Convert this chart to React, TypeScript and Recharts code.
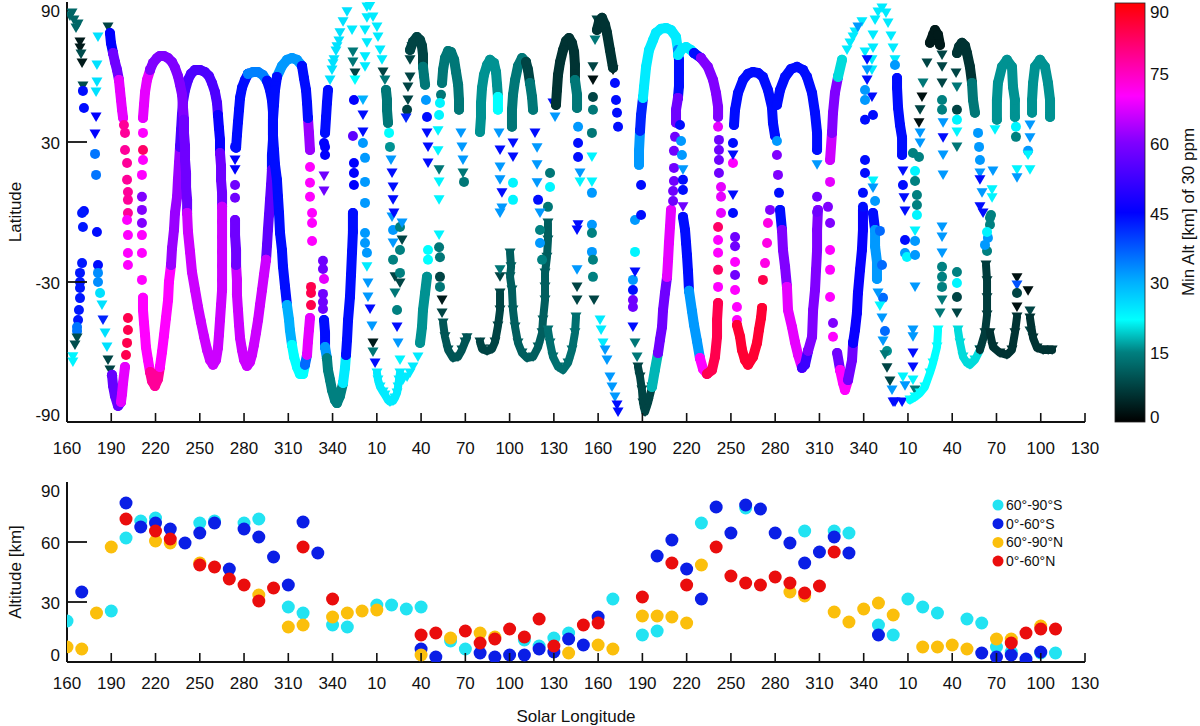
import React from 'react'
import { ScatterChart, Scatter, XAxis, YAxis } from 'recharts'

// Ls is continuous: 160..360 then 370 (=10) .. 520 (=160) .. 720 (=360) .. 850 (=130)
type Kind = 'o' | 'v' | 'O' | 'V' // o circle, v triangle; capitals = dense track
interface Seg { a: number; k: Kind; p: [number, number][] }

const LS_TICKS = [160, 190, 220, 250, 280, 310, 340, 370, 400, 430, 460, 490, 520, 550, 580, 610, 640, 670, 700, 730, 760, 790, 820, 850]
const LS_LABELS = ['160', '190', '220', '250', '280', '310', '340', '10', '40', '70', '100', '130', '160', '190', '220', '250', '280', '310', '340', '10', '40', '70', '100', '130']
const LAT_TICKS = [-90, -30, 30, 90]
const ALT_TICKS = [0, 30, 60, 90]
const CBAR_TICKS = [0, 15, 30, 45, 60, 75, 90]

// ---- upper panel: occultation latitude, coloured by min altitude (km) ----
const EARLY: Seg[] = [
  { a: 12, k: 'v', p: [[162, 84], [164.7, 82.3], [167.5, 80.6], [163.4, 85.3], [166.1, 78.9]] },
  { a: 3, k: 'v', p: [[168.8, 72.9], [168.8, 70.3], [170.2, 63.9]] },
  { a: 9, k: 'v', p: [[169.5, 67.7], [170.8, 54]] },
  { a: 44, k: 'o', p: [[170.8, 51.9], [171.5, 44.6], [171.5, 0.4]] },
  { a: 25, k: 'v', p: [[181, 75], [180.3, 63], [180.3, 55.7], [179.7, 51.4]] },
  { a: 45, k: 'v', p: [[179.7, 40.7], [179, 33.4]] },
  { a: 35, k: 'o', p: [[179, 24.9], [179.7, 15.9]] },
  { a: 43, k: 'o', p: [[170.2, -0.4], [170.8, -6.4], [170.2, -21.9], [168.8, -26.1], [168.8, -30], [168.8, -32.6], [168.8, -36.9], [168.1, -42], [167.5, -46.3]] },
  { a: 35, k: 'o', p: [[166.8, -49.3], [166.8, -51]] },
  { a: 9, k: 'v', p: [[166.8, -54], [165.4, -57]] },
  { a: 23, k: 'v', p: [[164, -62], [164, -64.3]] },
  { a: 44, k: 'o', p: [[180.3, -8.6], [181, -22.7]] },
  { a: 33, k: 'o', p: [[181, -26.1], [181, -30]] },
  { a: 25, k: 'o', p: [[182.4, -34.7]] },
  { a: 25, k: 'v', p: [[183.7, -39.9], [185.8, -51.9], [187.1, -57.9]] },
  { a: 42, k: 'v', p: [[184.4, -46.3]] },
  { a: 8, k: 'v', p: [[187.8, -63.4], [189.1, -67.7], [190.5, -72], [187.8, 79.3]] },
]

const MAGENTA_BAND: Seg[] = [
  { a: 45, k: 'O', p: [[189.1, 76.7], [189.8, 72.4], [191.2, 68.1]] },
  { a: 58, k: 'O', p: [[191.2, 68.1], [192.5, 64.3], [193.9, 60.9], [195.2, 56.6]] },
  { a: 68, k: 'O', p: [[195.2, 56.6], [195.9, 52.3], [196.6, 48], [197.3, 43.8], [198, 40.3]] },
  { a: 78, k: 'o', p: [[198.6, 37.3], [199.3, 33.9], [199.3, 26.6], [200.7, 21], [200.7, 13.8], [201.3, 8.6], [201.3, 5.2], [201.3, -0.4]] },
  { a: 70, k: 'o', p: [[200.7, -3.4], [201.3, -9.9], [201.3, -17.6], [201.3, -22.7]] },
  { a: 57, k: 'O', p: [[190.5, -69.8], [191.2, -74.5], [192.5, -78.8], [194.6, -83.1], [196.6, -81.4]] },
  { a: 68, k: 'O', p: [[196.6, -81.4], [197.3, -78], [198, -73.3], [199.3, -66.4]] },
  { a: 84, k: 'o', p: [[200, -61.3], [200.7, -56.1], [201.3, -50.6], [201.3, -45.4]] },
  { a: 70, k: 'o', p: [[211.5, 33.9], [211.5, 22.3], [210.8, 15.9], [210.8, -9.9], [210.8, -17.6], [210.8, -29.1]] },
  { a: 82, k: 'o', p: [[211.5, 26.6]] },
  { a: 60, k: 'o', p: [[210.8, 6.5], [210.8, 0.9], [210.8, -4.7]] },
  { a: 70, k: 'O', p: [[211.5, -36.8], [211.5, -42], [212.2, -47.6], [212.9, -52.7], [213.5, -57.9], [214.9, -63.4], [216.3, -68.6]] },
  { a: 78, k: 'O', p: [[216.3, -68.6], [217.6, -72.4], [219.6, -74.6], [221.7, -71.6], [223, -66.4]] },
  { a: 70, k: 'O', p: [[223, -66.4], [224.4, -60], [225.7, -53.1], [227.1, -45.4], [228.5, -37.7], [229.1, -30], [230.5, -22.7]] },
  { a: 62, k: 'O', p: [[230.5, -22.7], [231.2, -15.4], [232.5, -7.7], [233.2, -0.4], [234.6, 6.5], [235.2, 13.8], [235.9, 21], [236.6, 27.9]] },
  { a: 54, k: 'O', p: [[236.6, 27.9], [237.3, 35.2], [237.9, 41.6], [238.6, 47.2], [240, 52.3], [242, 56.6], [244, 59.2], [246.8, 60.9], [250.1, 60.9], [253.5, 60], [256.2, 58.3], [258.3, 55.3], [260.3, 51.4], [261.7, 46.7], [262.3, 41.6]] },
  { a: 68, k: 'O', p: [[211.5, 40.3], [212.2, 46], [212.9, 51.4], [214.2, 56.6], [216.3, 60.9]] },
  { a: 60, k: 'O', p: [[216.3, 60.9], [218.3, 63.9], [221, 66], [223, 66.9], [225.7, 66.9], [228.5, 66], [231.2, 64.3], [233.2, 61.8], [235.2, 58.3], [236.6, 54.5], [238, 50.2], [238.6, 45], [239.3, 39.5]] },
  { a: 58, k: 'O', p: [[239.3, 39.5], [239.3, 33.9], [240, 28.3], [240, 22.3], [240.7, 16.7], [240.7, 10.7], [241.4, 5.2], [241.4, -0.4]] },
  { a: 66, k: 'O', p: [[241.4, -0.4], [242, -8.5], [243.4, -17.1], [244.7, -25.7], [246.8, -33.4], [248.8, -40.7], [250.8, -47.1], [252.9, -53.5], [254.9, -59.1], [256.9, -63.4], [259, -65.5], [261, -63.4], [262.3, -58.3], [263, -52.7], [263.7, -46.3], [264.4, -39.9], [265.1, -33.4]] },
  { a: 46, k: 'O', p: [[262.3, 41.6], [263, 36], [263.7, 30.9], [263.7, 25.3]] },
  { a: 58, k: 'O', p: [[263.7, 25.3], [264.4, 19.7], [264.4, 13.8], [265.1, 8.2], [265.1, 2.2]] },
  { a: 66, k: 'O', p: [[265.1, 2.2], [265.1, -4.2], [265.1, -10.7], [265.1, -17.1], [265.1, -23.1], [265.1, -29.1], [265.1, -33.4]] },
]

const BLUE_BAND: Seg[] = [
  { a: 45, k: 'o', p: [[273.9, 27.9]] },
  { a: 45, k: 'v', p: [[273.9, 22.3], [273.9, 18.1]] },
  { a: 58, k: 'o', p: [[273.9, 11.6], [273.9, 6.1]] },
  { a: 44, k: 'O', p: [[274.6, 27.5], [275.2, 33], [275.9, 38.6], [276.6, 43.8], [277.3, 48.9], [278.6, 53.2], [280.6, 56.6], [282.7, 59.2]] },
  { a: 34, k: 'O', p: [[282.7, 59.2], [286.1, 60], [289.5, 60], [292.8, 58.7], [295.6, 56.2]] },
  { a: 44, k: 'O', p: [[295.6, 56.2], [297.6, 52.3], [298.9, 48], [299.6, 42.9], [299.6, 37.3], [299.6, 30.9], [298.9, 24.4], [298.9, 18.1]] },
  { a: 56, k: 'O', p: [[298.9, 18.1], [298.3, 11.6], [297.6, 5.2], [296.9, -1.3], [296.2, -7.7], [295.6, -14.1], [294.9, -20.5]] },
  { a: 66, k: 'O', p: [[294.9, -20.5], [293.5, -27], [292.2, -33.4], [290.8, -39.9], [289.5, -46.3], [288.1, -51.8], [286.7, -57], [285.4, -61.2], [284, -64.3], [282, -66], [280, -63.4], [278.6, -59.1], [277.3, -54], [276.6, -48.4], [275.9, -42], [275.2, -35.5], [275.2, -29.1], [274.6, -22.7]] },
  { a: 58, k: 'O', p: [[274.6, -22.7], [274.6, -16.3], [273.9, -9.9], [273.9, -3.4]] },
  { a: 32, k: 'O', p: [[302.3, 57.9], [305.7, 62.6], [309.1, 65.2], [312.5, 66], [315.9, 65.2], [319.3, 62.6]] },
  { a: 44, k: 'O', p: [[302.3, 57.9], [301, 52.3], [300.3, 45.9], [299.6, 39.5], [299.6, 33], [300.3, 26.6], [301, 20.2], [302.3, 13.8], [303, 6.5], [303.7, -0.4], [304.4, -9], [305.7, -16.3], [306.4, -23.5], [307.8, -32.1], [309.1, -39.9]] },
  { a: 30, k: 'O', p: [[309.1, -39.9], [310.5, -46.3], [311.1, -50.6], [312.5, -57]] },
  { a: 22, k: 'O', p: [[312.5, -57], [313.9, -62.1], [315.9, -66.4], [317.9, -69.4], [320, -69.4], [321.3, -65.5]] },
  { a: 36, k: 'O', p: [[321.3, -65.5], [322.7, -61.2]] },
  { a: 68, k: 'O', p: [[322.7, -61.2], [323.3, -55.7], [324, -50.6], [324.7, -45.4]] },
  { a: 84, k: 'o', p: [[325.4, -39.9], [325.4, -34.7], [325.4, -32.1]] },
  { a: 70, k: 'o', p: [[326.1, -12.4], [326.1, -4.7], [326.1, -0.4], [324.7, 6.5], [324.7, 12.5], [324.7, 19.3]] },
  { a: 62, k: 'O', p: [[324.7, 26.6], [324, 33.9], [323.3, 40.3]] },
  { a: 44, k: 'O', p: [[323.3, 40.3], [322.7, 46.7], [322, 52.3], [320.6, 57.4], [319.3, 62.6]] },
  { a: 45, k: 'o', p: [[334.9, 27.9], [334.9, 24.4], [334.2, 29.6]] },
  { a: 58, k: 'v', p: [[334.2, 15.4], [334.2, 9]] },
  { a: 58, k: 'o', p: [[333.5, -20.9], [333.5, -24.4], [333.5, -35.1], [333.5, -38.6], [333.5, -41.6]] },
  { a: 68, k: 'o', p: [[334.2, -28.7]] },
  { a: 44, k: 'O', p: [[334.2, -46.3], [334.9, -51.8], [334.9, -57.9]] },
  { a: 32, k: 'O', p: [[334.9, -57.9], [336.2, -62.7]] },
  { a: 15, k: 'O', p: [[336.2, -62.7], [336.9, -67.7], [338.3, -72], [339.6, -76.3], [341.6, -80.6], [343, -81.9], [345, -78.9], [347.1, -73.3]] },
  { a: 24, k: 'O', p: [[347.1, -73.3], [348.4, -66.9], [349.1, -61.3]] },
  { a: 44, k: 'O', p: [[349.1, -61.3], [349.8, -54.8], [350.5, -46.3], [351.8, -36.4], [352.5, -27], [353.2, -17.1], [353.8, -8.5], [353.8, -0.4]] },
  { a: 45, k: 'o', p: [[354.5, 11.6], [354.5, 16.7], [354.5, 21], [354.5, 48]] },
  { a: 56, k: 'o', p: [[353.8, 32.6]] },
  { a: 44, k: 'O', p: [[334.9, 33.9], [335.6, 40.7], [336.2, 46.7], [336.9, 52.3]] },
  { a: 25, k: 'v', p: [[338.3, 56.6], [339.6, 60.9], [340.3, 63.5], [341, 65.2], [342.3, 69], [343, 70.8], [344.3, 73.3], [345, 76.8], [347.1, 81.5], [349.8, 85.8]] },
]

const CYAN_ARCH: Seg[] = [
  { a: 24, k: 'v', p: [[353.2, 78]] },
  { a: 14, k: 'v', p: [[353.8, 68.6], [353.8, 64.3]] },
  { a: 8, k: 'v', p: [[355.2, 59.6]] },
  { a: 22, k: 'v', p: [[355.2, 56.6]] },
  { a: 24, k: 'v', p: [[363.3, 87.9], [363.3, 83.2], [362, 78], [363.3, 72.5], [362, 66.5], [362, 62.2]] },
  { a: 30, k: 'v', p: [[360.6, 48]] },
  { a: 44, k: 'v', p: [[360.6, 41.6], [360.6, 34.3]] },
  { a: 32, k: 'o', p: [[360.6, 29.6], [362, 23.2], [362, 12.9], [362, 3.9], [362, -9], [362, -13.3], [363.3, -17.5]] },
  { a: 24, k: 'v', p: [[363.3, -23.5]] },
  { a: 32, k: 'v', p: [[364, -30.4], [364, -36.4], [366.7, -48.9]] },
  { a: 44, k: 'v', p: [[365.4, -41.6], [368.8, -64.7]] },
  { a: 3, k: 'v', p: [[367.4, -56.1]] },
  { a: 14, k: 'v', p: [[367.4, -60]] },
  { a: 24, k: 'v', p: [[365.4, 88.3], [367.4, 83.6], [370.1, 79.3], [370.8, 75], [372.2, 69.4], [373.5, 65.2]] },
  { a: 8, k: 'v', p: [[374.2, 60]] },
  { a: 14, k: 'v', p: [[375.5, 56.6]] },
  { a: 14, k: 'O', p: [[376.2, 52.3], [376.9, 48], [376.9, 43.8], [377.6, 38.2]] },
  { a: 22, k: 'o', p: [[378.3, 33.9]] },
  { a: 16, k: 'o', p: [[378.9, 27.9]] },
  { a: 32, k: 'v', p: [[379.6, 22.3], [380.3, -2.1], [381, -13.3], [384.4, -56.1]] },
  { a: 44, k: 'v', p: [[380.3, 16.7], [381, 10.7], [381, 5.2], [381.6, -0.4], [383.7, -49.3]] },
  { a: 32, k: 'o', p: [[381, -7.7]] },
  { a: 15, k: 'o', p: [[381, -20.5], [383.7, -42]] },
  { a: 8, k: 'v', p: [[382.3, -27.8]] },
  { a: 14, k: 'v', p: [[382.3, -34.7]] },
  { a: 23, k: 'v', p: [[385.7, -63.4]] },
  { a: 15, k: 'o', p: [[385.7, -6.4], [385.7, -16.3], [385.7, -26.1]] },
  { a: 32, k: 'v', p: [[387.1, -4.7]] },
  { a: 8, k: 'v', p: [[387.1, -12], [385.7, -30.4]] },
  { a: 24, k: 'V', p: [[370.1, -69], [370.8, -72], [372.2, -75], [374.2, -77.1], [375.5, -78.4], [377.6, -80.6], [378.9, -81.4], [381, -81], [382.3, -79.7], [383.7, -77.6], [384.4, -75], [385, -72], [385.7, -69]] },
  { a: 24, k: 'v', p: [[387.7, -72], [390.5, -70.7], [392.5, -69], [394.5, -66.4], [397.9, -62.1]] },
  { a: 16, k: 'O', p: [[399.3, -56.1], [400.6, -49.3], [401.3, -42], [402.7, -34.7], [404, -27.8]] },
  { a: 22, k: 'o', p: [[404.7, -20.5], [404.7, -16.3]] },
]

const TEAL_ARCHES: Seg[] = [
  { a: 8, k: 'v', p: [[393.8, 70.8], [392.5, 65.2], [392.5, 57.9], [391.1, 53.6], [391.1, 48]] },
  { a: 8, k: 'o', p: [[390.5, 43.8]] },
  { a: 42, k: 'v', p: [[389.8, 40.3]] },
  { a: 8, k: 'O', p: [[392.5, 69.4], [394.5, 72.9], [397.2, 75], [399.3, 73.7], [400.6, 71.2], [401.3, 67.3], [401.3, 62.2]] },
  { a: 14, k: 'O', p: [[401.3, 62.2], [402, 58.3], [402.7, 54.5]] },
  { a: 32, k: 'o', p: [[403.3, 48]] },
  { a: 44, k: 'o', p: [[404, 40.7]] },
  { a: 44, k: 'v', p: [[404, 33.9], [404.7, 27.9], [404.7, 21]] },
  { a: 14, k: 'O', p: [[414.2, 55.3], [414.9, 60.9], [416.2, 66], [418.3, 69], [420.3, 68.6], [422.4, 65.2], [423.7, 60], [425.1, 54.5], [425.7, 48], [425.7, 43.8]] },
  { a: 14, k: 'o', p: [[413.5, 50.2]] },
  { a: 23, k: 'o', p: [[412.8, 46.7], [412.2, 41.6]] },
  { a: 23, k: 'v', p: [[411.5, 34.8], [411.5, 26.2], [412.2, 12.9], [412.2, 5.2]] },
  { a: 14, k: 'v', p: [[412.2, 18.1], [428.4, 16.7]] },
  { a: 32, k: 'v', p: [[427, 33.9], [427.7, 27.9], [428.4, 22.3]] },
  { a: 14, k: 'o', p: [[429.1, 12.9]] },
  { a: 16, k: 'O', p: [[439.9, 34.3], [440.6, 40.7], [440.6, 46.7], [441.3, 53.2], [442.6, 58.7], [444.7, 63], [446.7, 65.2], [449.4, 63.9], [450.8, 60], [451.5, 54.5], [452.1, 49.3]] },
  { a: 22, k: 'O', p: [[452.1, 49.3], [452.1, 43.8]] },
  { a: 32, k: 'v', p: [[452.8, 33.9], [453.5, 19.3], [453.5, 13.8], [454.8, 1.7]] },
  { a: 44, k: 'v', p: [[453.5, 26.6], [454.8, 8.2]] },
  { a: 14, k: 'O', p: [[461.6, 36.5], [461.6, 43.8], [462.3, 50.2], [463.7, 56.6], [465.7, 62.6], [468.4, 66], [471.1, 64.3]] },
  { a: 8, k: 'O', p: [[471.1, 64.3], [472.5, 60.9], [473.8, 55.3]] },
  { a: 14, k: 'O', p: [[473.8, 55.3], [475.2, 49.3], [475.9, 43.8]] },
  { a: 44, k: 'v', p: [[462.3, 29.6], [462.3, 23.6], [477.2, 33.9]] },
  { a: 23, k: 'o', p: [[462.3, 12.5], [462.3, 5.2]] },
  { a: 32, k: 'v', p: [[478.6, 27.5], [478.6, 20.2], [478.6, 12.5]] },
  { a: 44, k: 'o', p: [[479.3, 5.2]] },
  { a: 14, k: 'o', p: [[487.4, 16.7], [486, 2.2]] },
  { a: 23, k: 'o', p: [[487.4, 10.7]] },
  { a: 44, k: 'v', p: [[489.4, 46.7]] },
  { a: 32, k: 'v', p: [[490.8, 40.7]] },
  { a: 6, k: 'O', p: [[491.4, 45.9], [492.1, 52.3], [492.8, 58.7], [494.2, 64.3], [496.2, 69.4], [498.2, 73.3], [500.3, 74.6], [502.3, 72.4], [503.7, 68.6], [504.3, 63], [504.3, 56.6]] },
  { a: 14, k: 'O', p: [[504.3, 56.6], [505.7, 50.2], [505.7, 44.6]] },
  { a: 32, k: 'o', p: [[506.4, 36.5]] },
  { a: 44, k: 'o', p: [[506.4, 29.6], [506.4, 23.6]] },
  { a: 32, k: 'v', p: [[507.7, 16.7]] },
  { a: 23, k: 'v', p: [[507.7, 12.9]] },
  { a: 8, k: 'v', p: [[519.2, 82.3], [516.5, 62.2]] },
  { a: 14, k: 'v', p: [[517.9, 73.7]] },
  { a: 2, k: 'v', p: [[516.5, 56.6], [530.1, 60.9]] },
  { a: 8, k: 'o', p: [[516.5, 49.3]] },
  { a: 14, k: 'o', p: [[516.5, 43.8], [515.8, 33.9]] },
  { a: 23, k: 'v', p: [[515.8, 23.6], [515.8, 12.9]] },
  { a: 32, k: 'o', p: [[515.8, 8.2]] },
  { a: 6, k: 'O', p: [[519.2, 78], [520.6, 81.5], [522.6, 83.2], [524.7, 80.2], [526, 76.8], [528, 69.4], [530.1, 61.8]] },
  { a: 44, k: 'o', p: [[531.4, 55.3], [532.1, 48], [532.8, 42.5], [533.5, 36.5]] },
]

const TEAL_BOTTOMS: Seg[] = [
  { a: 23, k: 'v', p: [[412.2, -9.9]] },
  { a: 14, k: 'o', p: [[412.2, -15.1], [412.8, -19.4], [412.8, -32.1]] },
  { a: 8, k: 'o', p: [[412.8, -27.8]] },
  { a: 3, k: 'v', p: [[414.2, -37.7]] },
  { a: 8, k: 'v', p: [[414.2, -43.3]] },
  { a: 10, k: 'V', p: [[414.9, -47.6], [416.2, -53.5], [418.3, -59.1], [421.6, -62.6], [425, -62.1], [427.7, -59.1], [429.8, -55.7], [431.1, -53.9]] },
  { a: 8, k: 'V', p: [[439.9, -55.7], [441.3, -58.7], [444.7, -59.6], [448.1, -58.7], [450.1, -55.7], [452.1, -48.9], [453.5, -42], [453.5, -34.7]] },
  { a: 8, k: 'v', p: [[453.5, -27.8]] },
  { a: 14, k: 'v', p: [[453.5, -24.8]] },
  { a: 32, k: 'v', p: [[453.5, -0.4]] },
  { a: 11, k: 'V', p: [[460.3, -17.6], [461, -23.5], [460.3, -27.8], [461.6, -33.4], [462.3, -42], [463.7, -49.3], [465.7, -56.1], [468.4, -60.4], [471.8, -62.6], [475.9, -62.1], [479.3, -57.9], [482, -51.8], [482.6, -46.3], [484, -37.7], [484, -32.1], [484, -26.1], [485.3, -19.4], [486, -12], [486, -4.7]] },
  { a: 32, k: 'v', p: [[480.6, -0.4]] },
  { a: 15, k: 'o', p: [[480.6, -7.7], [482, -20.5]] },
  { a: 32, k: 'o', p: [[480.6, -13.3]] },
  { a: 13, k: 'V', p: [[486, -50.6], [487.4, -56.1], [489.4, -62.1], [492.8, -66.4], [496.2, -67.7], [499.6, -64.7], [502.3, -59.1], [504.3, -51.8], [505, -45]] },
  { a: 8, k: 'v', p: [[505.7, -37.7], [505.7, -32.1]] },
  { a: 32, k: 'v', p: [[505.7, -24.8]] },
  { a: 44, k: 'v', p: [[505.7, -7.7], [506.4, -5.5]] },
  { a: 32, k: 'o', p: [[515.8, -5.5], [515.8, -17.1]] },
  { a: 15, k: 'o', p: [[515.8, -9], [516.5, -20.5], [516.5, -27.8]] },
  { a: 8, k: 'v', p: [[517.2, -37.7]] },
  { a: 24, k: 'v', p: [[521.3, -46.3], [522, -50.6], [523.3, -56.1]] },
  { a: 32, k: 'v', p: [[524.7, -59.1], [526, -63.4], [528, -70.7], [529.4, -75], [531.4, -79.3]] },
  { a: 44, k: 'v', p: [[532.8, -82.7], [533.5, -85.7]] },
]

const YEAR2_MID: Seg[] = [
  { a: 32, k: 'o', p: [[545, -3.4], [543.6, -29.1]] },
  { a: 23, k: 'o', p: [[545, -17.1]] },
  { a: 44, k: 'v', p: [[545, -25.7], [543.6, -49.3]] },
  { a: 44, k: 'o', p: [[543.6, -33.4]] },
  { a: 58, k: 'o', p: [[543.6, -37.7], [543.6, -40.7]] },
  { a: 14, k: 'v', p: [[545, -56.1], [546.4, -62.1]] },
  { a: 8, k: 'V', p: [[547, -66.4], [548.4, -70.7], [549.7, -76.3], [550.4, -81.9], [551.8, -85.7], [553.8, -81.9], [556.5, -75]] },
  { a: 18, k: 'O', p: [[556.5, -75], [558.5, -67.7], [560.6, -60.4]] },
  { a: 58, k: 'O', p: [[560.6, -60.4], [561.9, -54.8], [563.3, -49.3], [564, -42], [565.3, -34.7], [566.7, -27.8]] },
  { a: 68, k: 'O', p: [[566.7, -27.8], [567.4, -20.5], [568, -13.3], [568.7, -6.4], [569.4, 0.9]] },
  { a: 58, k: 'o', p: [[570.8, 4.7], [570.8, 9], [571.4, 13.3], [571.4, 18.9], [571.4, 26.2]] },
  { a: 44, k: 'o', p: [[549.1, -1.3], [549.1, 11.6]] },
  { a: 32, k: 'O', p: [[547.7, 20.2], [547.7, 26.2], [548.4, 34.8]] },
  { a: 42, k: 'O', p: [[548.4, 34.8], [549.1, 41.6], [550.4, 48.9]] },
  { a: 24, k: 'O', p: [[550.4, 48.9], [551.1, 53.6], [552.5, 62.2], [554.5, 69.4], [557.2, 73.7], [559.2, 76.8], [562.6, 78.5], [566, 78.9], [569.4, 78], [572.8, 75], [574.1, 69.4]] },
  { a: 34, k: 'O', p: [[574.1, 69.4], [574.8, 65.2]] },
  { a: 44, k: 'O', p: [[574.8, 65.2], [574.8, 59.6], [574.8, 54], [574.1, 48.9]] },
  { a: 58, k: 'O', p: [[574.1, 48.9], [572.8, 43.8], [572.8, 38.3]] },
  { a: 58, k: 'o', p: [[572.1, 32.2]] },
  { a: 44, k: 'o', p: [[575.5, 37.3], [577.5, 13.8], [577.5, 9.4]] },
  { a: 32, k: 'o', p: [[576.2, 30.4], [576.8, 24.4]] },
  { a: 32, k: 'v', p: [[577.5, 18.1]] },
  { a: 58, k: 'v', p: [[577.5, 2.2]] },
  { a: 24, k: 'O', p: [[574.1, 67.3], [576.8, 69.9], [579.6, 70.7], [582.9, 69.4], [585, 68.1]] },
  { a: 44, k: 'O', p: [[585, 68.1], [589.7, 66]] },
  { a: 60, k: 'O', p: [[589.7, 66], [594.4, 62.2], [597.9, 56.6], [599.9, 51], [601.3, 45], [601.3, 40.7]] },
  { a: 68, k: 'o', p: [[601.3, 36.5], [603.3, 10.7], [603.3, 6.5], [603.3, -0.4]] },
  { a: 58, k: 'o', p: [[601.9, 30.9], [601.9, 26.6], [601.9, 22.3], [601.9, 16.7]] },
  { a: 44, k: 'O', p: [[577.5, -2.1], [578.9, -7.7], [579.6, -13.3], [580.2, -18.4], [580.9, -25.3], [581.6, -33.8]] },
  { a: 32, k: 'O', p: [[581.6, -33.8], [583.6, -42.4], [585, -48.4], [587, -55.3], [589, -62.6]] },
  { a: 70, k: 'O', p: [[589, -62.6], [591.1, -67.3], [593.8, -69.4]] },
  { a: 84, k: 'O', p: [[593.8, -69.4], [597.2, -67.7], [599.2, -62.1], [600.6, -53.5], [600.6, -46.3], [601.3, -39]] },
  { a: 70, k: 'o', p: [[601.3, -32.1], [601.3, -17.5], [601.3, -12]] },
  { a: 82, k: 'o', p: [[601.3, -24.8], [601.3, -6.4]] },
  { a: 44, k: 'o', p: [[611.4, -0.4], [611.4, 29.6]] },
  { a: 58, k: 'o', p: [[612.8, -10.7], [612.8, -14.7], [612.8, -27]] },
  { a: 70, k: 'o', p: [[612.8, -21.4], [612.8, -33.4], [614.1, -40.7], [614.1, -46.3], [611.4, 21]] },
  { a: 44, k: 'v', p: [[611.4, 24.4], [611.4, 7.3]] },
  { a: 86, k: 'O', p: [[614.1, -48.4], [616.2, -53.5], [617.5, -59.1], [619.5, -63.4], [621.6, -65.5], [625, -62.1], [627.7, -56.1], [629, -50.6], [630.4, -45.4], [631.1, -41.1]] },
  { a: 84, k: 'o', p: [[631.7, -29.1]] },
  { a: 72, k: 'o', p: [[633.1, -21.9], [634.5, -13.3], [635.1, -4.7]] },
  { a: 60, k: 'o', p: [[636.5, 0.9]] },
  { a: 44, k: 'O', p: [[612.1, 37.3], [612.8, 43.8], [614.8, 51], [618.2, 56.6], [621.6, 59.2], [624.9, 60], [628.4, 59.6], [631.7, 57.9], [635.1, 52.3], [637.8, 45], [638.5, 38.2], [639.9, 32.6]] },
  { a: 32, k: 'o', p: [[641.2, 30.4]] },
  { a: 60, k: 'o', p: [[641.2, 24.4], [641.9, 15.9]] },
  { a: 44, k: 'o', p: [[642.6, 8.2]] },
  { a: 44, k: 'O', p: [[643.3, 0.9], [644.6, -7.7]] },
  { a: 60, k: 'O', p: [[644.6, -7.7], [645.3, -16.3], [646.7, -23.5], [648, -32.1]] },
  { a: 68, k: 'O', p: [[648, -32.1], [648.7, -42], [651.4, -49.3], [653.4, -55.7], [655.5, -61.2], [658.2, -66.8]] },
  { a: 52, k: 'O', p: [[658.2, -66.8], [660.2, -65.5], [662.3, -59.5]] },
  { a: 60, k: 'O', p: [[662.3, -59.5], [665, -53.5], [665.7, -42], [667, -33.4], [667.7, -24.8], [668.4, -16.3], [668.4, -7.7], [669, 0.9]] },
  { a: 44, k: 'O', p: [[641.2, 45.9], [643.3, 52.3], [646.7, 57.9], [650.7, 61.3], [654.8, 62.2], [658.9, 60.9], [661.6, 57.9], [665, 51], [667, 42.5], [668.4, 33.9], [668.4, 26.6]] },
  { a: 32, k: 'v', p: [[668.4, 20.2]] },
  { a: 58, k: 'o', p: [[668.4, 6.5], [668.4, 0]] },
  { a: 66, k: 'O', p: [[677.2, 22.3], [678.5, 33.9]] },
  { a: 60, k: 'O', p: [[678.5, 33.9], [679.2, 42.5], [680.5, 51], [682.6, 57.9]] },
  { a: 20, k: 'O', p: [[682.6, 57.9], [685.3, 65.2]] },
  { a: 24, k: 'v', p: [[688.7, 69.4], [690.7, 72.4], [692.8, 75], [694.1, 77.1], [698.8, 81.5]] },
  { a: 32, k: 'v', p: [[696.1, 79.3]] },
  { a: 68, k: 'o', p: [[677.2, 12.9]] },
  { a: 60, k: 'o', p: [[675.8, 2.2], [677.2, -4.7], [679.2, -47.6]] },
  { a: 70, k: 'o', p: [[677.2, -16.3], [677.2, -24.8], [677.2, -36.4], [679.2, -53.5]] },
  { a: 58, k: 'O', p: [[682, -60.4], [684, -67.7]] },
  { a: 70, k: 'O', p: [[684, -67.7], [686, -73.3], [687.3, -76.3], [689.4, -72]] },
  { a: 58, k: 'O', p: [[689.4, -72], [692.1, -63.4], [692.8, -56.1]] },
  { a: 46, k: 'O', p: [[692.8, -56.1], [694.1, -50.6], [695.4, -43.3], [696.1, -34.7], [697.5, -24.8], [698.8, -16.3], [699.5, -7.7], [699.5, 0.9]] },
  { a: 44, k: 'o', p: [[700.9, 22.3], [700.9, 16.7], [699.5, 8.2], [699.5, 2.2]] },
  { a: 24, k: 'v', p: [[700.9, 68.6], [705.6, 65.2], [705.6, 60.9]] },
  { a: 44, k: 'v', p: [[702.3, 65.2], [702.3, 56.6], [705.6, 49.3]] },
  { a: 32, k: 'v', p: [[702.3, 60.9]] },
  { a: 32, k: 'o', p: [[700.9, 52.3], [700.9, 48]] },
  { a: 44, k: 'o', p: [[700.9, 39.5], [706.3, 41.6]] },
]

const YEAR2_LATE: Seg[] = [
  { a: 44, k: 'O', p: [[706.3, -0.4], [707.7, -7.7]] },
  { a: 32, k: 'O', p: [[707.7, -7.7], [707.7, -14.7], [709, -21.4], [709, -28.7]] },
  { a: 36, k: 'o', p: [[711, -8.1], [712.4, -22.7], [713.1, -36.8], [714.4, -51]] },
  { a: 16, k: 'o', p: [[715.8, -59.6]] },
  { a: 32, k: 'v', p: [[709.7, -34.7], [712.4, -45.4], [713.1, -55.3], [719.2, -76.3], [728, -74.5]] },
  { a: 23, k: 'v', p: [[711, -40.3], [726.6, -70.7]] },
  { a: 14, k: 'v', p: [[714.4, -61.2]] },
  { a: 8, k: 'v', p: [[715.8, -66.8], [717.8, -72.4]] },
  { a: 44, k: 'v', p: [[719.9, -81.4], [721.2, -81.4], [726, -81.4]] },
  { a: 32, k: 'o', p: [[707.7, 4.7]] },
  { a: 23, k: 'v', p: [[706.3, 13.3]] },
  { a: 32, k: 'v', p: [[706.3, 10.3]] },
  { a: 24, k: 'v', p: [[706.3, 70.3], [706.3, 75.9], [707.7, 82.3], [709.7, 85.7], [712.4, 87.4], [715.1, 85.3], [716.5, 81], [718.5, 75.4], [719.9, 70.3], [721.2, 65.2]] },
  { a: 32, k: 'o', p: [[721.2, 63]] },
  { a: 44, k: 'O', p: [[722.6, 57.4], [722.6, 53.2], [723.3, 44.6], [724.6, 37.3], [726, 31.8], [726, 24.4]] },
  { a: 44, k: 'v', p: [[726.6, 17.6], [727.3, 6.1], [728, 0.4]] },
  { a: 44, k: 'o', p: [[726.6, 11.6], [728, -12]] },
  { a: 32, k: 'o', p: [[728, -17.6]] },
  { a: 23, k: 'o', p: [[729.3, -19.3]] },
  { a: 15, k: 'o', p: [[733.4, 25.3], [734.8, 13.3], [736.1, 7.3], [736.1, 3]] },
  { a: 23, k: 'o', p: [[734.8, 17.6], [736.1, -1.3]] },
  { a: 23, k: 'v', p: [[734.8, -8.1], [733.4, -72]] },
  { a: 32, k: 'o', p: [[734.8, -12.4], [734.8, -18.4]] },
  { a: 32, k: 'v', p: [[734.8, -32.1], [733.4, -50.6], [733.4, -53.5]] },
  { a: 44, k: 'v', p: [[733.4, -60.4], [733.4, -66.4]] },
  { a: 14, k: 'v', p: [[734.8, -76.3]] },
  { a: 3, k: 'O', p: [[744.9, 72.5], [747, 75.9], [748.3, 78], [750.4, 75.9], [751.7, 71.6]] },
  { a: 8, k: 'v', p: [[742.9, 63.9], [738.2, 43.8], [753.1, 67.3], [753.1, 62.2], [753.1, 55.3]] },
  { a: 14, k: 'v', p: [[740.2, 55.3]] },
  { a: 2, k: 'v', p: [[739.5, 49.3], [737.5, 38.2]] },
  { a: 32, k: 'v', p: [[738.2, 33.9], [738.2, 29.6], [753.8, 38.3], [753.8, 24.4], [753.8, 15.9]] },
  { a: 15, k: 'o', p: [[737.5, 23.6], [753.1, 48], [753.1, 43.8]] },
  { a: 44, k: 'v', p: [[753.8, 31.8]] },
  { a: 32, k: 'v', p: [[753.1, -6.4], [753.1, -10.7], [753.1, -17.6]] },
  { a: 15, k: 'o', p: [[753.1, -23.5], [753.1, -27.8], [753.1, -32.1]] },
  { a: 14, k: 'v', p: [[753.1, -37.7], [751.7, -43.3]] },
  { a: 22, k: 'V', p: [[750.4, -50.6], [749.7, -57.9], [747, -64.7], [744.9, -69], [741.5, -75], [738.2, -77.6], [734.8, -79.3], [731.4, -80.6]] },
  { a: 6, k: 'O', p: [[763.2, 68.1], [764.6, 70.8], [766.6, 72.5], [768.7, 71.2], [770, 68.1], [772, 62.2], [773.4, 55.3]] },
  { a: 14, k: 'O', p: [[773.4, 55.3], [774.1, 48], [775.4, 42.5]] },
  { a: 8, k: 'v', p: [[762.6, 59.6]] },
  { a: 14, k: 'v', p: [[763.2, 53.6], [763.2, 27.9]] },
  { a: 8, k: 'o', p: [[763.2, 43.8], [763.2, -36.4]] },
  { a: 23, k: 'o', p: [[763.2, 39.5], [763.2, -30.4]] },
  { a: 23, k: 'v', p: [[763.2, 34.3]] },
  { a: 15, k: 'o', p: [[763.2, -25.7]] },
  { a: 8, k: 'v', p: [[763.2, -43.3]] },
  { a: 20, k: 'V', p: [[763.9, -50.6], [765.3, -56.1], [767.3, -62.1], [770, -64.7], [772, -65.5], [775.4, -63.4], [778.8, -59.1]] },
  { a: 7, k: 'V', p: [[778.8, -59.1], [782.2, -51.8], [783.6, -44.1], [783.6, -36.8], [783.6, -29.5], [782.9, -22.7]] },
  { a: 15, k: 'o', p: [[783.6, -16.7], [785.6, -5.5], [785.6, -2.5], [786.3, -1.3]] },
  { a: 32, k: 'o', p: [[784.2, -11.1], [777.5, 33.9], [778.2, 27.9], [778.8, 22.3], [782.2, -14.1]] },
  { a: 32, k: 'v', p: [[778.8, 16.7], [780.2, 8.2], [787.6, 17.6]] },
  { a: 44, k: 'v', p: [[778.8, 13.8], [778.8, 2.2], [780.9, -0.4]] },
  { a: 23, k: 'o', p: [[783.6, -8.6]] },
  { a: 23, k: 'v', p: [[787, 9.5], [787, 6.1]] },
  { a: 16, k: 'O', p: [[790.3, 39.5], [790.3, 48], [791, 55.3], [793.7, 62.2], [797.1, 65.2], [800.5, 62.2], [801.2, 53.6], [802.5, 48], [802.5, 40.7]] },
  { a: 23, k: 'v', p: [[789, 35.2], [803.9, 18.1]] },
  { a: 23, k: 'o', p: [[803.2, 36.5]] },
  { a: 15, k: 'o', p: [[803.2, 32.2]] },
  { a: 32, k: 'v', p: [[803.9, 14.7]] },
  { a: 2, k: 'v', p: [[803.9, -28.2], [803.9, -40.7]] },
  { a: 38, k: 'v', p: [[803.9, -31.3]] },
  { a: 8, k: 'o', p: [[803.9, -34.7]] },
  { a: 6, k: 'V', p: [[785.6, -51.8], [787.6, -57.8], [792.4, -60.4], [797.1, -61.2], [800.5, -59.1], [802.5, -51.8], [803.9, -45]] },
  { a: 16, k: 'O', p: [[814.1, 42.5], [814.1, 48], [814.8, 55.3], [816.1, 62.2], [819.5, 65.2], [822.9, 62.2], [824.9, 55.3], [826.3, 48], [826.3, 40.7]] },
  { a: 32, k: 'v', p: [[812.7, 37.3], [812.7, 31.8]] },
  { a: 32, k: 'o', p: [[811.4, 26.2]] },
  { a: 23, k: 'v', p: [[811.4, 24.4], [812.7, 18.1]] },
  { a: 2, k: 'v', p: [[811.4, -33.8]] },
  { a: 8, k: 'v', p: [[812.7, -42.4], [812.7, -51]] },
  { a: 6, k: 'V', p: [[812.7, -45.4], [814.8, -54], [817.5, -58.3], [821.6, -59.1], [825, -59.1], [827.7, -59.1]] },
]

const TOP_SEGS: Seg[] = [...EARLY, ...BLUE_BAND, ...MAGENTA_BAND, ...CYAN_ARCH, ...TEAL_ARCHES, ...TEAL_BOTTOMS, ...YEAR2_MID, ...YEAR2_LATE]

// ---- lower panel: altitude per latitude band ----
const S_POLAR: [number, number][] = [[160, 20.5], [190, 25.5], [200, 62], [210, 70.5], [220, 72], [250, 69.5], [260, 70.5], [280, 69.5], [290, 71.5], [310, 27.5], [320, 24.5], [340, 18.5], [350, 17.5], [370, 28.5], [380, 28.5], [390, 26.5], [400, 27.5], [420, 10.5], [430, 6.5], [470, 11], [480, 8], [490, 12], [500, 14.5], [530, 31.5], [550, 13.5], [560, 15.5], [590, 69.5], [620, 77], [660, 65.5], [680, 65.5], [690, 64.5], [710, 18.5], [720, 13.5], [730, 31.5], [740, 27.5], [750, 24.5], [770, 21.5], [780, 19.5], [790, 7.5], [800, 5], [820, 4.5], [830, 4.5]]
const S_MID: [number, number][] = [[170, 35], [200, 79.5], [210, 67.5], [220, 69.5], [230, 66.5], [240, 59.5], [250, 64.5], [260, 69.5], [270, 46.5], [280, 66.5], [290, 62.5], [300, 52.5], [310, 38.5], [320, 70], [330, 54.5], [400, 6.5], [410, 2.5], [440, 4.5], [450, 2.5], [460, 3.5], [470, 3.5], [480, 6.5], [490, 5], [500, 11.5], [510, 8.5], [520, 22.5], [560, 53], [570, 61], [580, 46.5], [590, 31.5], [600, 77.5], [610, 64.5], [620, 78.5], [630, 76.5], [640, 64.5], [650, 59.5], [660, 49.5], [670, 55], [680, 62.5], [690, 54.5], [710, 13.5], [780, 4.5], [790, 2.5], [800, 3.5], [810, 1.5], [820, 5]]
const N_POLAR: [number, number][] = [[160, 7.5], [170, 6.5], [180, 24.5], [190, 57.5], [220, 60.5], [230, 59.5], [250, 49.5], [290, 33.5], [310, 17.5], [320, 18.5], [340, 22.5], [350, 24.5], [360, 25.5], [370, 26], [400, 3.5], [420, 12], [440, 14.5], [450, 12.5], [500, 4.5], [520, 8.5], [530, 6.5], [550, 23], [560, 23], [570, 22.5], [580, 19.5], [590, 48.5], [650, 35], [660, 33], [680, 25], [690, 20], [700, 26.5], [710, 29.5], [720, 23.5], [740, 7.5], [750, 7.5], [760, 8.5], [770, 6.5], [790, 11.5], [800, 11.5], [820, 18]]
const N_MID: [number, number][] = [[200, 71.5], [220, 65.5], [230, 61.5], [250, 48.5], [260, 47.5], [270, 41.5], [280, 38.5], [290, 30.5], [300, 37], [320, 57.5], [340, 31.5], [400, 13.5], [410, 14.5], [430, 15.5], [440, 9.5], [450, 11.5], [460, 16.5], [470, 12.5], [480, 21.5], [490, 8], [510, 18.5], [520, 19.5], [550, 32.5], [570, 49.5], [580, 38.5], [600, 57.5], [610, 43], [620, 39.5], [630, 38.5], [640, 42.5], [650, 39.5], [660, 34.5], [670, 38], [680, 55], [800, 9.5], [810, 14.5], [820, 16.5], [830, 16.5]]

const BANDS = [
  { name: '60°-90°S', color: '#22e3f2', data: S_POLAR },
  { name: '0°-60°S', color: '#0a1ee6', data: S_MID },
  { name: '60°-90°N', color: '#fbbf0c', data: N_POLAR },
  { name: '0°-60°N', color: '#ea0d0d', data: N_MID },
]

// colour scale of the colour bar (km)
const CMAP: [number, string][] = [
  [0, '#000000'], [15, '#008080'], [22, '#00ffff'], [30, '#00b0ff'], [45, '#0000ff'],
  [60, '#8000ff'], [70, '#ff00ff'], [90, '#ff0000'],
]

function hexRgb(h: string) {
  return [1, 3, 5].map((i) => parseInt(h.slice(i, i + 2), 16))
}
function altColor(a: number): string {
  for (let i = 1; i < CMAP.length; i++) {
    const [v1, c1] = CMAP[i]
    const [v0, c0] = CMAP[i - 1]
    if (a <= v1) {
      const t = (a - v0) / (v1 - v0)
      const p = hexRgb(c0)
      const q = hexRgb(c1)
      const m = p.map((x, j) => Math.round(x + (q[j] - x) * t))
      return `rgb(${m[0]},${m[1]},${m[2]})`
    }
  }
  return CMAP[CMAP.length - 1][1]
}

const FONT = '"Liberation Sans", Arial, Helvetica, sans-serif'
const INK = '#111'

const bottomTick = (dy: number) => (props: any) => {
  const { x, y, payload } = props
  const i = LS_TICKS.indexOf(payload.value)
  return (
    <g>
      <line x1={x} x2={x} y1={y} y2={y - 9} stroke={INK} strokeWidth={1.6} />
      <text x={x} y={y + dy} textAnchor="middle" fontSize={17} fill={INK} fontFamily={FONT}>{LS_LABELS[i]}</text>
    </g>
  )
}
const topTick = (props: any) => (
  <line x1={props.x} x2={props.x} y1={props.y} y2={props.y + 9} stroke={INK} strokeWidth={1.6} />
)
const leftTick = (inner: number[], top: number, bottom: number) => (props: any) => {
  const { x, y, payload } = props
  const v = payload.value
  const dy = v === top ? 15 : v === bottom ? -1 : 7
  return (
    <g>
      {inner.includes(v) && <line x1={x} x2={x + 20} y1={y} y2={y} stroke={INK} strokeWidth={1.8} />}
      <text x={x - 7} y={y + dy} textAnchor="end" fontSize={17} fill={INK} fontFamily={FONT}>{v}</text>
    </g>
  )
}
const rightTick = (inner: number[]) => (props: any) => {
  const { x, y, payload } = props
  if (!inner.includes(payload.value)) return <g />
  return <line x1={x} x2={x - 20} y1={y} y2={y} stroke={INK} strokeWidth={1.8} />
}

const circle = (r: number, color: string) => (p: any) => <circle cx={p.cx} cy={p.cy} r={r} fill={color} />
const triangle = (color: string) => (p: any) => (
  <path d={`M${p.cx - 5.5},${p.cy - 4.5}L${p.cx + 5.5},${p.cy - 4.5}L${p.cx},${p.cy + 5}Z`} fill={color} />
)

const AXIS_LINE = { stroke: INK, strokeWidth: 2 }

function LatitudePanel() {
  return (
    <ScatterChart width={1100} height={460} margin={{ top: 2, right: 15, bottom: 0, left: 7 }}>
      <XAxis xAxisId="b" dataKey="x" type="number" domain={[160, 850]} ticks={LS_TICKS} interval={0}
        height={38} tickSize={0} tickMargin={0} tick={bottomTick(32)} axisLine={AXIS_LINE} allowDataOverflow />
      <XAxis xAxisId="t" orientation="top" dataKey="x" type="number" domain={[160, 850]} ticks={LS_TICKS} interval={0}
        height={0} tickSize={0} tickMargin={0} tick={topTick} axisLine={AXIS_LINE} allowDataOverflow />
      <YAxis yAxisId="l" dataKey="y" type="number" domain={[-90, 90]} ticks={LAT_TICKS} interval={0}
        width={60} tickSize={0} tickMargin={0} tick={leftTick([-30, 30], 90, -90)} axisLine={AXIS_LINE} allowDataOverflow />
      <YAxis yAxisId="r" orientation="right" dataKey="y" type="number" domain={[-90, 90]} ticks={LAT_TICKS} interval={0}
        width={0} tickSize={0} tickMargin={0} tick={rightTick([-30, 30])} axisLine={AXIS_LINE} allowDataOverflow />
      {TOP_SEGS.map((s, i) => {
        const color = altColor(s.a)
        const tri = s.k === 'v' || s.k === 'V'
        const linked = s.k === 'O' || s.k === 'V'
        return (
          <Scatter
            key={i}
            xAxisId="b"
            yAxisId="l"
            data={s.p.map(([x, y]) => ({ x, y }))}
            fill={color}
            shape={tri ? triangle(color) : circle(5, color)}
            line={linked ? { stroke: color, strokeWidth: tri ? 8 : 10, strokeLinecap: 'round', strokeLinejoin: 'round' } : false}
            isAnimationActive={false}
          />
        )
      })}
    </ScatterChart>
  )
}

function AltitudePanel() {
  return (
    <ScatterChart width={1100} height={256} margin={{ top: 12, right: 15, bottom: 0, left: 7 }}>
      <XAxis xAxisId="b" dataKey="x" type="number" domain={[160, 850]} ticks={LS_TICKS} interval={0}
        height={64} tickSize={0} tickMargin={0} tick={bottomTick(27)} axisLine={AXIS_LINE} allowDataOverflow />
      <XAxis xAxisId="t" orientation="top" dataKey="x" type="number" domain={[160, 850]} ticks={LS_TICKS} interval={0}
        height={0} tickSize={0} tickMargin={0} tick={topTick} axisLine={AXIS_LINE} allowDataOverflow />
      <YAxis yAxisId="l" dataKey="y" type="number" domain={[0, 90]} ticks={ALT_TICKS} interval={0}
        width={60} tickSize={0} tickMargin={0} tick={leftTick([30, 60], 90, 0)} axisLine={AXIS_LINE} allowDataOverflow />
      <YAxis yAxisId="r" orientation="right" dataKey="y" type="number" domain={[0, 90]} ticks={ALT_TICKS} interval={0}
        width={0} tickSize={0} tickMargin={0} tick={rightTick([30, 60])} axisLine={AXIS_LINE} allowDataOverflow />
      {BANDS.map((b) => (
        <Scatter
          key={b.name}
          name={b.name}
          xAxisId="b"
          yAxisId="l"
          data={b.data.map(([x, y]) => ({ x, y }))}
          fill={b.color}
          shape={circle(6.5, b.color)}
          isAnimationActive={false}
        />
      ))}
    </ScatterChart>
  )
}

function Overlay() {
  const barTop = 3
  const barBottom = 422
  const yOf = (v: number) => barBottom - (v / 90) * (barBottom - barTop)
  return (
    <svg width={1200} height={726} style={{ position: 'absolute', left: 0, top: 0, pointerEvents: 'none' }}>
      <defs>
        <linearGradient id="cbar" x1="0" y1="1" x2="0" y2="0">
          {CMAP.map(([v, c]) => <stop key={v} offset={v / 90} stopColor={c} />)}
        </linearGradient>
      </defs>
      <rect x={1115} y={barTop} width={30} height={barBottom - barTop} fill="url(#cbar)" stroke="#222" strokeWidth={0.8} />
      {CBAR_TICKS.map((v) => (
        <text key={v} x={1150} y={yOf(v) + (v === 90 ? 15 : v === 0 ? 1 : 7)} fontSize={17} fill={INK} fontFamily={FONT}>{v}</text>
      ))}
      <text transform="translate(1194,212) rotate(-90)" textAnchor="middle" fontSize={17} fill={INK} fontFamily={FONT}>Min Alt [km] of 30 ppm</text>
      <text transform="translate(21,212) rotate(-90)" textAnchor="middle" fontSize={17} fill={INK} fontFamily={FONT}>Latitude</text>
      <text transform="translate(21,572) rotate(-90)" textAnchor="middle" fontSize={17} fill={INK} fontFamily={FONT}>Altitude [km]</text>
      <text x={576} y={722} textAnchor="middle" fontSize={17} fill={INK} fontFamily={FONT}>Solar Longitude</text>
      {BANDS.map((b, i) => (
        <g key={b.name}>
          <circle cx={998} cy={505 + i * 18.7} r={5.5} fill={b.color} />
          <text x={1006} y={510 + i * 18.7} fontSize={14} fill={INK} fontFamily={FONT}>{b.name}</text>
        </g>
      ))}
    </svg>
  )
}

export default function App() {
  return (
    <div style={{ position: 'absolute', left: 0, top: 0, width: 1200, height: 726, background: '#fff', fontFamily: FONT }}>
      <div style={{ position: 'absolute', left: 0, top: 0 }}>
        <LatitudePanel />
      </div>
      <div style={{ position: 'absolute', left: 0, top: 470 }}>
        <AltitudePanel />
      </div>
      <Overlay />
    </div>
  )
}
